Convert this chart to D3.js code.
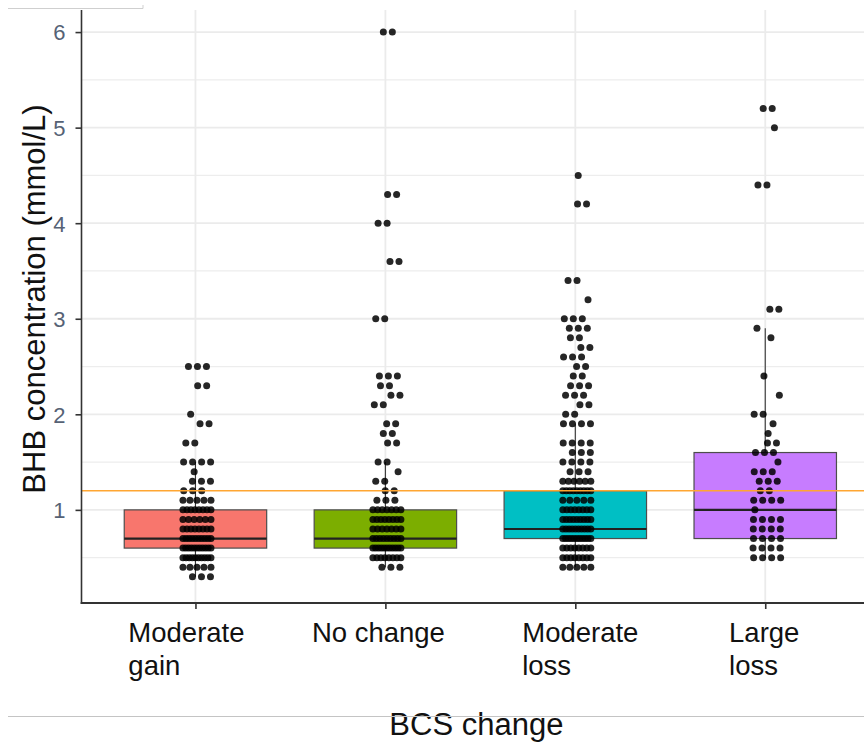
<!DOCTYPE html>
<html>
<head>
<meta charset="utf-8">
<script src="https://cdn.jsdelivr.net/npm/d3@7"></script>
<style>
  html, body { margin: 0; padding: 0; background: #fff; }
  svg { display: block; font-family: "Liberation Sans", Arial, sans-serif; }
</style>
</head>
<body>
<div id="chart"></div>
<script>
// groups along the x axis, with their (wrapped) tick labels
const categories = ["Moderate gain", "No change", "Moderate loss", "Large loss"];
const tickLines = [["Moderate", "gain"], ["No change"], ["Moderate", "loss"], ["Large", "loss"]];
const yTicks = [1, 2, 3, 4, 5, 6];

// box summaries
const q1 = [0.6, 0.6, 0.7, 0.7];
const median = [0.7, 0.7, 0.8, 1.0];
const q3 = [1.0, 1.0, 1.2, 1.6];
const whiskerLow = [0.3, 0.4, 0.4, 0.5];
const whiskerHigh = [1.5, 1.5, 1.9, 2.9];

// reference line (mmol/L)
const threshold = 1.2;

// observed BHB values per group: [value, number of cows at that value]
const gainPoints = [
  [2.5, 3], [2.3, 2], [2.0, 1], [1.9, 2], [1.7, 2], [1.5, 4], [1.4, 1], [1.3, 3], [1.2, 3],
  [1.1, 5], [1.0, 8], [0.9, 6], [0.8, 8], [0.7, 10], [0.6, 11], [0.5, 10], [0.4, 5], [0.3, 3]
];
const noChangePoints = [
  [6.0, 2], [4.3, 2], [4.0, 2], [3.6, 2], [3.0, 2], [2.4, 3], [2.3, 2], [2.2, 2], [2.1, 2],
  [1.9, 2], [1.8, 2], [1.7, 2], [1.5, 2], [1.4, 1], [1.3, 2], [1.2, 2], [1.1, 3], [1.0, 7],
  [0.9, 8], [0.8, 7], [0.7, 9], [0.6, 11], [0.5, 8], [0.4, 3]
];
const modLossPoints = [
  [4.5, 1], [4.2, 2], [3.4, 2], [3.2, 1], [3.0, 3], [2.9, 3], [2.8, 2], [2.7, 2], [2.6, 3],
  [2.5, 2], [2.4, 2], [2.3, 3], [2.2, 3], [2.1, 2], [2.0, 2], [1.9, 4], [1.7, 4], [1.6, 3],
  [1.5, 4], [1.4, 3], [1.3, 6], [1.2, 9], [1.1, 5], [1.0, 8], [0.9, 9], [0.8, 10], [0.7, 11],
  [0.6, 8], [0.5, 8], [0.4, 5]
];
const largeLossPoints = [
  [5.2, 2], [5.0, 1], [4.4, 2], [3.1, 2], [2.9, 1], [2.8, 1], [2.4, 1], [2.2, 1], [2.0, 2],
  [1.9, 1], [1.8, 1], [1.7, 2], [1.6, 3], [1.5, 1], [1.4, 3], [1.3, 3], [1.2, 2], [1.1, 4],
  [1.0, 1], [0.9, 4], [0.8, 4], [0.7, 4], [0.6, 4], [0.5, 4]
];
const pointsByGroup = [gainPoints, noChangePoints, modLossPoints, largeLossPoints];

const boxColors = ["#F8766D", "#7CAE00", "#00BFC4", "#C77CFF"];

const width = 864;
const height = 742;
const panel = { left: 81.5, top: 10, bottom: 604 };

const svg = d3.select("#chart").append("svg")
  .attr("width", width)
  .attr("height", height);

svg.append("rect").attr("width", width).attr("height", height).attr("fill", "#fff");

// discrete axis like ggplot: groups at 1..4, 0.6 expansion each side
const x = d3.scaleLinear()
  .domain([0.4, 4.6])
  .range([panel.left, 879.2]);

// 0.3..6.0 with 5% expansion
const y = d3.scaleLinear()
  .domain([0.015, 6.285])
  .range([panel.bottom, panel.bottom - 6.27 * 95.56]);

svg.append("clipPath").attr("id", "panelClip")
  .append("rect")
  .attr("x", panel.left)
  .attr("y", panel.top)
  .attr("width", width - panel.left)
  .attr("height", panel.bottom - panel.top);

const g = svg.append("g").attr("clip-path", "url(#panelClip)");

// grid
const minor = d3.range(0.5, 6.1, 1);
g.selectAll("line.minor").data(minor).join("line")
  .attr("x1", panel.left).attr("x2", width)
  .attr("y1", d => y(d)).attr("y2", d => y(d))
  .attr("stroke", "#ededed").attr("stroke-width", 1.3);

g.selectAll("line.major").data(yTicks).join("line")
  .attr("x1", panel.left).attr("x2", width)
  .attr("y1", d => y(d)).attr("y2", d => y(d))
  .attr("stroke", "#ebebeb").attr("stroke-width", 1.8);

g.selectAll("line.vgrid").data(categories).join("line")
  .attr("x1", (d, i) => x(i + 1)).attr("x2", (d, i) => x(i + 1))
  .attr("y1", panel.top).attr("y2", panel.bottom)
  .attr("stroke", "#ebebeb").attr("stroke-width", 1.8);

// boxplots
const boxW = 0.75;
const boxes = g.selectAll("g.box").data(categories).join("g").attr("class", "box");

boxes.append("line")
  .attr("x1", (d, i) => x(i + 1)).attr("x2", (d, i) => x(i + 1))
  .attr("y1", (d, i) => y(q3[i])).attr("y2", (d, i) => y(whiskerHigh[i]))
  .attr("stroke", "#333").attr("stroke-width", 1.1);

boxes.append("line")
  .attr("x1", (d, i) => x(i + 1)).attr("x2", (d, i) => x(i + 1))
  .attr("y1", (d, i) => y(q1[i])).attr("y2", (d, i) => y(whiskerLow[i]))
  .attr("stroke", "#333").attr("stroke-width", 1.1);

boxes.append("rect")
  .attr("x", (d, i) => x(i + 1 - boxW / 2))
  .attr("width", x(1 + boxW) - x(1))
  .attr("y", (d, i) => y(q3[i]))
  .attr("height", (d, i) => y(q1[i]) - y(q3[i]))
  .attr("fill", (d, i) => boxColors[i])
  .attr("stroke", "#4d4d4d").attr("stroke-width", 1.2);

boxes.append("line")
  .attr("x1", (d, i) => x(i + 1 - boxW / 2)).attr("x2", (d, i) => x(i + 1 + boxW / 2))
  .attr("y1", (d, i) => y(median[i])).attr("y2", (d, i) => y(median[i]))
  .attr("stroke", "#222").attr("stroke-width", 2.2);

// jittered points: deterministic spread of tied values around the group centre
const JITTER = 14;
const pattern = [0.1, 0.55, -0.45, 0.8, -0.7, 0.3, -0.2, 0.9, -0.85, 0.45];

function rowOffsets(n, r) {
  const s = pattern[r % pattern.length];
  if (n === 1) return [s * JITTER];
  const half = Math.min(JITTER, (n - 1) * 4.5);
  const shift = s * (JITTER - half);
  return d3.range(n).map(i => shift - half + (2 * half * i) / (n - 1));
}

const dots = [];
pointsByGroup.forEach((rows, gi) => {
  rows.forEach(([v, n], r) => {
    rowOffsets(n, r).forEach(off => dots.push({ group: gi, value: v, off }));
  });
});

g.selectAll("circle.dot").data(dots).join("circle")
  .attr("class", "dot")
  .attr("cx", d => x(d.group + 1) + 1.5 + d.off)
  .attr("cy", d => y(d.value))
  .attr("r", 3.5)
  .attr("fill", "#000")
  .attr("fill-opacity", 0.85);

// threshold line
g.append("line")
  .attr("x1", panel.left).attr("x2", width)
  .attr("y1", y(threshold)).attr("y2", y(threshold))
  .attr("stroke", "#FFA632").attr("stroke-width", 1.4);

// axes
const gy = svg.append("g")
  .attr("transform", `translate(${panel.left},0)`)
  .call(d3.axisLeft(y).tickValues(yTicks).tickSize(6).tickPadding(10).tickFormat(d3.format("d")));
gy.select(".domain").remove();
gy.selectAll(".tick line").attr("stroke", "#333").attr("stroke-width", 1.6);
gy.selectAll(".tick text")
  .attr("fill", "#566275")
  .style("font-size", "22px")
  .attr("dy", "0.36em");

const gx = svg.append("g")
  .attr("transform", `translate(0,${panel.bottom - 1})`)
  .call(d3.axisBottom(x).tickValues([1, 2, 3, 4]).tickSize(6).tickFormat(""));
gx.select(".domain").remove();
gx.selectAll(".tick line").attr("stroke", "#333").attr("stroke-width", 1.6);

svg.append("line")
  .attr("x1", panel.left).attr("x2", panel.left)
  .attr("y1", panel.top).attr("y2", panel.bottom)
  .attr("stroke", "#333").attr("stroke-width", 1.6);
svg.append("line")
  .attr("x1", panel.left - 0.8).attr("x2", width)
  .attr("y1", panel.bottom - 1).attr("y2", panel.bottom - 1)
  .attr("stroke", "#333").attr("stroke-width", 1.8);

// multi-line tick labels: block centred on tick, lines left aligned
const labelNudge = [-9, -7, 5, -1];
tickLines.forEach((lines, i) => {
  const t = svg.append("text")
    .attr("fill", "#111")
    .style("font-size", "27.5px");
  lines.forEach((line, k) => {
    t.append("tspan").attr("y", 642 + k * 33).text(line);
  });
  const w = d3.max(t.selectAll("tspan").nodes(), n => n.getComputedTextLength());
  t.selectAll("tspan").attr("x", x(i + 1) - w / 2 + labelNudge[i]);
});

// axis titles
svg.append("text")
  .attr("x", (x.range()[0] + x.range()[1]) / 2 - 4)
  .attr("y", 735)
  .attr("text-anchor", "middle")
  .attr("fill", "#111")
  .style("font-size", "31px")
  .text("BCS change");

svg.append("text")
  .attr("transform", "translate(45,299) rotate(-90)")
  .attr("text-anchor", "middle")
  .attr("fill", "#111")
  .style("font-size", "31px")
  .text("BHB concentration (mmol/L)");

// thin page-edge rules visible in the source screenshot
svg.append("path")
  .attr("d", "M8,8.5H143V5")
  .attr("fill", "none")
  .attr("stroke", "#cfcfcf");
svg.append("line")
  .attr("x1", 8).attr("x2", width)
  .attr("y1", 716.5).attr("y2", 716.5)
  .attr("stroke", "#c4c4c4");
</script>
</body>
</html>
